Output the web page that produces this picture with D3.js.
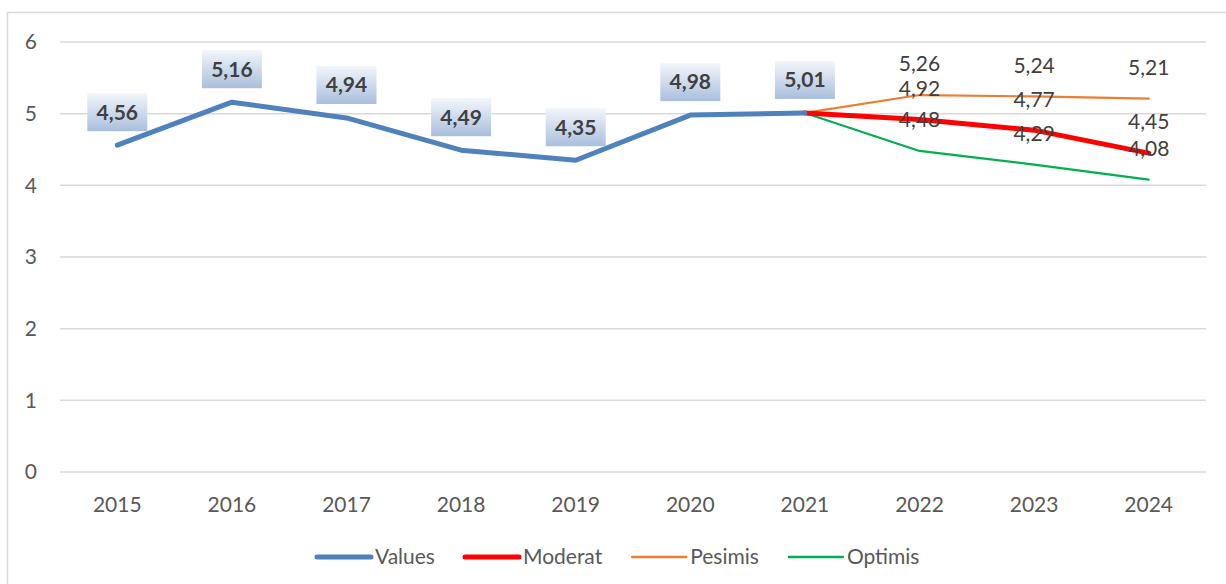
<!DOCTYPE html>
<html>
<head>
<meta charset="utf-8">
<script src="https://cdn.jsdelivr.net/npm/d3@7"></script>
<style>
  html, body { margin: 0; padding: 0; background: #fff; }
  svg { display: block; }
  text { font-family: Lato, "Open Sans", sans-serif; }
</style>
</head>
<body>
<svg id="chart" width="1226" height="584"></svg>
<script>
const categories = ["2015","2016","2017","2018","2019","2020","2021","2022","2023","2024"];
const yTicks = [0,1,2,3,4,5,6];

const valuesYears = ["2015","2016","2017","2018","2019","2020","2021"];
const valuesData  = [4.56, 5.16, 4.94, 4.49, 4.35, 4.98, 5.01];

const forecastYears = ["2021","2022","2023","2024"];
const moderatData = [5.01, 4.92, 4.77, 4.45];
const pesimisData = [5.01, 5.26, 5.24, 5.21];
const optimisData = [5.01, 4.48, 4.29, 4.08];

const seriesNames = ["Values","Moderat","Pesimis","Optimis"];
const seriesColors = ["#4f81bd","#ff0000","#ed7d31","#00b050"];
const seriesWidths = [5, 5, 2.2, 2.2];

const fmt = v => d3.format(".2f")(v).replace(".", ",");

const svg = d3.select("#chart");

// border
svg.append("rect").attr("x", 7.5).attr("y", 12.5).attr("width", 1240).attr("height", 600)
  .attr("fill", "none").attr("stroke", "#d9d9d9").attr("stroke-width", 1.5);

const x = d3.scaleBand().domain(categories).range([60, 1206]);
const y = d3.scaleLinear().domain([0, 6]).range([472, 42]);
const cx = c => x(c) + x.bandwidth() / 2;

// grid
svg.append("g").selectAll("line").data(yTicks).join("line")
  .attr("x1", 60).attr("x2", 1206)
  .attr("y1", d => y(d)).attr("y2", d => y(d))
  .attr("stroke", "#d9d9d9").attr("stroke-width", 1.5);

// y labels
svg.append("g").selectAll("text").data(yTicks).join("text")
  .attr("x", 37).attr("y", d => y(d)).attr("dy", "0.35em")
  .attr("text-anchor", "end").attr("font-size", 21).attr("fill", "#595959")
  .text(d => d);

// x labels
svg.append("g").selectAll("text").data(categories).join("text")
  .attr("x", d => cx(d)).attr("y", 512)
  .attr("text-anchor", "middle").attr("font-size", 21).attr("fill", "#595959")
  .text(d => d);

const line = d3.line().x(d => cx(d.c)).y(d => y(d.v));
const zip = (cs, vs) => cs.map((c, i) => ({c, v: vs[i]}));

const series = [
  {name: "Optimis", data: zip(forecastYears, optimisData), idx: 3},
  {name: "Pesimis", data: zip(forecastYears, pesimisData), idx: 2},
  {name: "Moderat", data: zip(forecastYears, moderatData), idx: 1},
  {name: "Values",  data: zip(valuesYears, valuesData), idx: 0}
];

series.forEach(s => {
  svg.append("path").datum(s.data)
    .attr("d", line).attr("fill", "none")
    .attr("stroke", seriesColors[s.idx]).attr("stroke-width", seriesWidths[s.idx])
    .attr("stroke-linejoin", "round").attr("stroke-linecap", "round");
});

// gradient for Values labels
const defs = svg.append("defs");
const grad = defs.append("linearGradient").attr("id", "lblGrad")
  .attr("x1", 0).attr("y1", 0).attr("x2", 0).attr("y2", 1);
grad.append("stop").attr("offset", "0%").attr("stop-color", "#f3f6fb");
grad.append("stop").attr("offset", "100%").attr("stop-color", "#a9bfdd");

// forecast labels (skip 2021 point)
["Optimis","Pesimis","Moderat"].forEach(n => {
  const s = series.find(t => t.name === n);
  svg.append("g").selectAll("text").data(s.data.slice(1)).join("text")
    .attr("x", d => cx(d.c)).attr("y", d => y(d.v) - 31).attr("dy", "0.35em")
    .attr("text-anchor", "middle").attr("font-size", 21).attr("fill", "#404040")
    .text(d => fmt(d.v));
});

// values labels
const vl = svg.append("g").selectAll("g").data(series.find(t => t.name === "Values").data).join("g")
  .attr("transform", d => `translate(${cx(d.c)},${y(d.v) - 33})`);
vl.append("rect").attr("x", -30).attr("y", -19).attr("width", 60).attr("height", 38)
  .attr("fill", "url(#lblGrad)");
vl.append("text").attr("dy", "0.35em").attr("text-anchor", "middle")
  .attr("font-size", 21).attr("font-weight", "bold").attr("fill", "#404040")
  .text(d => fmt(d.v));

// legend
const legend = svg.append("g").attr("transform", "translate(317,0)");
const swLen = 54;
let lx = 0;
seriesNames.forEach((n, i) => {
  const g = legend.append("g");
  g.append("line").attr("x1", 0).attr("x2", swLen).attr("y1", 0).attr("y2", 0)
    .attr("stroke", seriesColors[i]).attr("stroke-width", seriesWidths[i] < 3 ? 2.5 : 5)
    .attr("stroke-linecap", "round");
  const t = g.append("text").attr("x", swLen + 4).attr("dy", "0.35em")
    .attr("font-size", 21).attr("fill", "#595959").text(n);
  const w = swLen + 4 + t.node().getComputedTextLength();
  g.attr("transform", `translate(${lx},557)`);
  lx += w + 30;
});
</script>
</body>
</html>
